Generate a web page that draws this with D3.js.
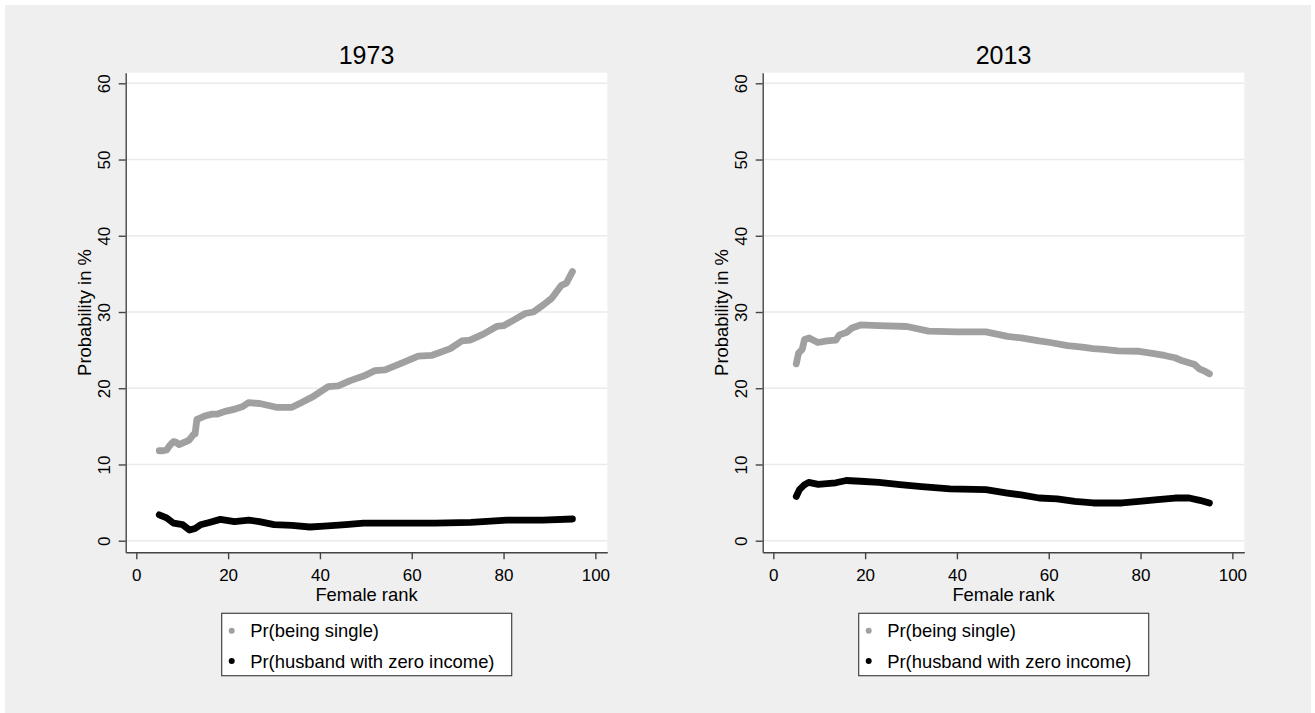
<!DOCTYPE html>
<html>
<head>
<meta charset="utf-8">
<script src="https://cdn.jsdelivr.net/npm/d3@7"></script>
<style>
  body { margin: 0; background: #ffffff; }
  text { font-family: "Liberation Sans", Arial, sans-serif; fill: #000; }
</style>
</head>
<body>
<svg id="chart" width="1315" height="713"></svg>
<script>
// Panel titles, ticks and legend labels
const years = ["1973", "2013"];
const yTicks = [0, 10, 20, 30, 40, 50, 60];
const xTicks = [0, 20, 40, 60, 80, 100];
const seriesNames = ["Pr(being single)", "Pr(husband with zero income)"];
const xTitle = "Female rank";
const yTitle = "Probability in %";

// 1973: probability of being single by female rank
const single1973Rank = [5, 5.8, 6.6, 7.3, 8.1, 8.7, 9.3, 10.8, 11.5, 12.4, 12.8, 13.2, 14, 15.1, 16.5, 17.5, 19.6, 21.7, 23.2, 24.4, 26.9, 30.5, 33.9, 35.9, 38.5, 41.8, 44.0, 46.6, 49.5, 52.0, 54.2, 57.8, 61.4, 64.3, 68.4, 70.9, 72.7, 75.6, 78.5, 80.0, 82.1, 84.7, 86.5, 88.6, 90.5, 92.6, 93.7, 95];
const single1973Pct = [11.8, 11.8, 11.9, 12.5, 13.0, 12.9, 12.6, 13.0, 13.2, 13.9, 14.0, 15.9, 16.1, 16.4, 16.6, 16.6, 17.0, 17.3, 17.6, 18.1, 18.0, 17.5, 17.5, 18.1, 18.9, 20.2, 20.3, 21.0, 21.6, 22.3, 22.4, 23.3, 24.2, 24.3, 25.2, 26.2, 26.3, 27.1, 28.1, 28.2, 28.9, 29.8, 30.0, 30.9, 31.8, 33.5, 33.8, 35.3];

// 1973: probability of a husband with zero income
const zero1973Rank = [5, 6.6, 8.1, 10.1, 11.6, 12.8, 14.0, 15.9, 18.3, 21.4, 24.5, 26.8, 30.0, 33.9, 37.8, 40.9, 45.6, 49.5, 57.3, 65.1, 72.9, 80.7, 88.5, 95];
const zero1973Pct = [3.4, 3.0, 2.3, 2.1, 1.4, 1.6, 2.1, 2.4, 2.8, 2.5, 2.7, 2.5, 2.1, 2.0, 1.8, 1.9, 2.1, 2.3, 2.3, 2.3, 2.4, 2.7, 2.7, 2.85];

// 2013: probability of being single
const single2013Rank = [5, 5.5, 6.3, 6.8, 7.8, 9.7, 11.7, 13.6, 14.4, 15.9, 17.1, 19.0, 23.0, 29.1, 33.8, 40.0, 46.3, 51.0, 54.0, 57.9, 60.3, 64.1, 67.3, 69.7, 72.0, 75.1, 79.7, 82.9, 85.2, 87.5, 89.1, 91.8, 92.9, 94.1, 95];
const single2013Pct = [23.2, 24.6, 25.1, 26.4, 26.6, 26.0, 26.2, 26.3, 27.0, 27.3, 27.9, 28.3, 28.2, 28.1, 27.5, 27.4, 27.4, 26.8, 26.6, 26.2, 26.0, 25.6, 25.4, 25.2, 25.1, 24.9, 24.85, 24.55, 24.3, 24.0, 23.6, 23.1, 22.5, 22.2, 21.9];

// 2013: probability of a husband with zero income
const zero2013Rank = [5, 5.7, 6.8, 7.7, 9.8, 13.6, 15.9, 19.0, 23.0, 27.6, 32.3, 38.5, 46.3, 51.0, 54.0, 57.9, 61.8, 65.7, 69.7, 76.0, 79.7, 83.7, 87.5, 90.6, 92.9, 95];
const zero2013Pct = [5.8, 6.7, 7.35, 7.65, 7.4, 7.6, 7.9, 7.8, 7.65, 7.35, 7.1, 6.8, 6.7, 6.25, 6.0, 5.6, 5.5, 5.15, 4.95, 4.95, 5.15, 5.4, 5.6, 5.6, 5.3, 4.95];

const seriesColors = ["#a0a0a0", "#000000"];

const zip = (xs, ys) => xs.map((x, i) => ({ x, y: ys[i] }));
const panels = [
  { title: years[0], left: 125.7, series: [zip(single1973Rank, single1973Pct), zip(zero1973Rank, zero1973Pct)] },
  { title: years[1], left: 762.7, series: [zip(single2013Rank, single2013Pct), zip(zero2013Rank, zero2013Pct)] }
];

const plotW = 481.6, plotTop = 72.7, plotBottom = 552.3;

const svg = d3.select("#chart");

// graph region background
svg.append("rect").attr("x", 5).attr("y", 5).attr("width", 1306).attr("height", 708).attr("fill", "#efefef");

panels.forEach(p => {
  const g = svg.append("g");
  const x = d3.scaleLinear().domain([-2.31, 102.6]).range([p.left, p.left + plotW]);
  const y = d3.scaleLinear().domain([-1.52, 61.39]).range([plotBottom, plotTop]);

  // plot region
  g.append("rect")
    .attr("x", p.left).attr("y", plotTop)
    .attr("width", plotW).attr("height", plotBottom - plotTop)
    .attr("fill", "#ffffff");

  // horizontal grid
  g.append("g").selectAll("line").data(yTicks).join("line")
    .attr("x1", p.left).attr("x2", p.left + plotW)
    .attr("y1", d => y(d)).attr("y2", d => y(d))
    .attr("stroke", "#eaeaea").attr("stroke-width", 1.6);

  // series
  const line = d3.line().x(d => x(d.x)).y(d => y(d.y)).curve(d3.curveLinear);
  p.series.forEach((s, i) => {
    g.append("path").datum(s)
      .attr("d", line)
      .attr("fill", "none")
      .attr("stroke", seriesColors[i])
      .attr("stroke-width", 6.8)
      .attr("stroke-linecap", "round")
      .attr("stroke-linejoin", "round");
  });

  // y axis
  const yAxis = g.append("g").attr("transform", `translate(${p.left},0)`)
    .call(d3.axisLeft(y).tickValues(yTicks).tickSize(7).tickSizeOuter(0));
  yAxis.selectAll(".tick text")
    .attr("transform", "rotate(-90)")
    .attr("x", 0).attr("y", -21).attr("dy", null)
    .attr("text-anchor", "middle")
    .attr("dominant-baseline", "central")
    .style("font-size", "17px");

  // x axis
  const xAxis = g.append("g").attr("transform", `translate(0,${plotBottom})`)
    .call(d3.axisBottom(x).tickValues(xTicks).tickSize(7).tickSizeOuter(0));
  xAxis.selectAll(".tick text")
    .attr("y", 0).attr("dy", null)
    .attr("transform", "translate(0,28.3)")
    .style("font-size", "17px");

  [yAxis, xAxis].forEach(a => {
    a.select(".domain").attr("stroke", "#444").attr("stroke-width", 1.4);
    a.selectAll(".tick line").attr("stroke", "#444").attr("stroke-width", 1.4);
    a.selectAll("text").attr("fill", "#000").style("font-family", "'Liberation Sans', Arial, sans-serif");
  });

  // titles
  const cx = p.left + plotW / 2;
  g.append("text").attr("x", cx).attr("y", 63.5).attr("text-anchor", "middle")
    .style("font-size", "25px").text(p.title);
  g.append("text").attr("x", cx).attr("y", 600.5).attr("text-anchor", "middle")
    .style("font-size", "18.4px").text(xTitle);
  g.append("text")
    .attr("transform", `translate(${p.left - 41},${(plotTop + plotBottom) / 2}) rotate(-90)`)
    .attr("text-anchor", "middle").attr("dominant-baseline", "central")
    .style("font-size", "18.4px").text(yTitle);

  // legend
  const lx = p.left + 96;
  const lg = g.append("g");
  lg.append("rect").attr("x", lx).attr("y", 613.3).attr("width", 290).attr("height", 62.4)
    .attr("fill", "#ffffff").attr("stroke", "#444").attr("stroke-width", 1.2);
  seriesNames.forEach((name, i) => {
    const cy = 630.7 + i * 30.3;
    lg.append("circle").attr("cx", lx + 10).attr("cy", cy).attr("r", 3)
      .attr("fill", seriesColors[i]);
    lg.append("text").attr("x", lx + 28.5).attr("y", cy).attr("dominant-baseline", "central")
      .style("font-size", "18.4px").text(name);
  });
});
</script>
</body>
</html>
